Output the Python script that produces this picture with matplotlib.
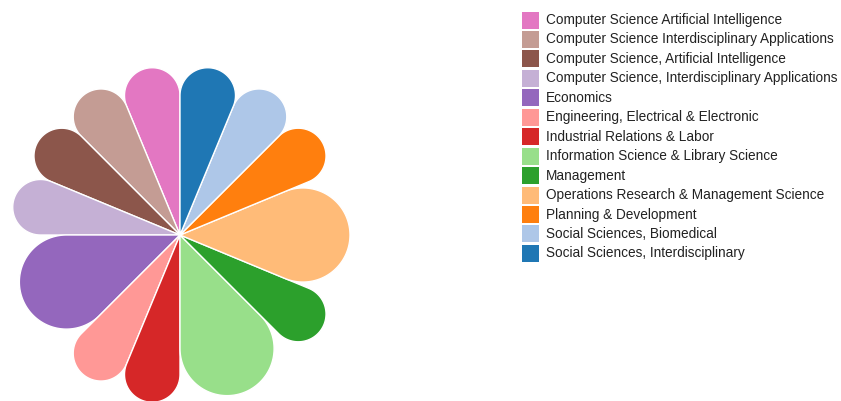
import matplotlib
matplotlib.use("Agg")
import matplotlib.pyplot as plt
import numpy as np
from matplotlib.patches import Polygon, Rectangle

# categories (legend order) and their counts
categories = [
    "Computer Science Artificial Intelligence",
    "Computer Science Interdisciplinary Applications",
    "Computer Science, Artificial Intelligence",
    "Computer Science, Interdisciplinary Applications",
    "Economics",
    "Engineering, Electrical & Electronic",
    "Industrial Relations & Labor",
    "Information Science & Library Science",
    "Management",
    "Operations Research & Management Science",
    "Planning & Development",
    "Social Sciences, Biomedical",
    "Social Sciences, Interdisciplinary",
]
values = [1, 1, 1, 1, 2, 1, 1, 2, 1, 2, 1, 1, 1]
colors = ["#e377c2", "#c49c94", "#8c564b", "#c5b0d5", "#9467bd", "#ff9896",
          "#d62728", "#98df8a", "#2ca02c", "#ffbb78", "#ff7f0e", "#aec7e8",
          "#1f77b4"]

W, H = 841, 401
fig = plt.figure(figsize=(W / 100, H / 100), dpi=100)
ax = fig.add_axes([0, 0, 1, 1])
ax.set_xlim(0, W)
ax.set_ylim(H, 0)
ax.set_aspect("equal")
ax.axis("off")

cx, cy = 180, 235   # flower centre
L = 170             # petal length

total = sum(values)
start = 0.0
for name, v, col in zip(categories, values, colors):
    span = 2 * np.pi * v / total
    a0 = start - span      # going counter-clockwise from the top
    mid = (a0 + start) / 2
    half = span / 2
    # teardrop: circle tangent to both slice edges, tip at distance L
    d = L / (1 + np.sin(half))
    r = d * np.sin(half)
    ccx = cx + d * np.sin(mid)
    ccy = cy - d * np.cos(mid)
    # arc angles (screen angle measured clockwise from up)
    t = np.linspace(start + np.pi / 2, a0 - np.pi / 2, 120)
    xs = ccx + r * np.sin(t)
    ys = ccy - r * np.cos(t)
    pts = np.vstack([[cx, cy], np.column_stack([xs, ys]), [cx, cy]])
    ax.add_patch(Polygon(pts, closed=True, facecolor=col, edgecolor="white",
                         linewidth=1.0, joinstyle="round"))
    start = a0

# legend
lx, ly0, step, sq = 522, 20, 19.45, 17
for i, (name, col) in enumerate(zip(categories, colors)):
    y = ly0 + i * step
    ax.add_patch(Rectangle((lx, y - sq / 2), sq, sq, facecolor=col, edgecolor="none"))
    ax.text(lx + 24, y, name, va="center", ha="left", fontsize=9.8,
            family="Liberation Sans", color="#222222")

fig.savefig("out.png", dpi=100)
